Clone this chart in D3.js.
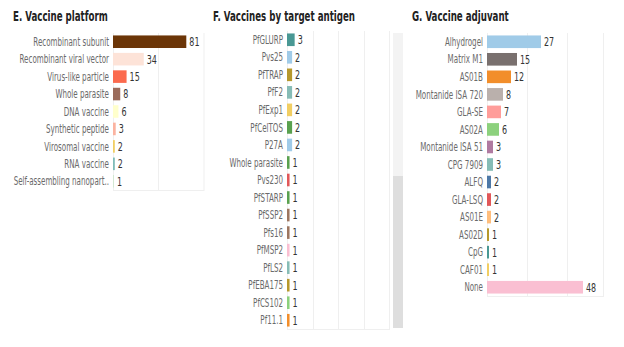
<!DOCTYPE html>
<html><head><meta charset="utf-8">
<script src="https://cdn.jsdelivr.net/npm/d3@7"></script>
<style>
html,body{margin:0;padding:0;background:#fff;}
svg{display:block;}
.lbl{font-family:"DejaVu Sans Condensed","DejaVu Sans",sans-serif;font-size:11.5px;fill:#6a6a6a;}
.val{font-family:"DejaVu Sans Condensed","DejaVu Sans",sans-serif;font-size:12px;fill:#333;}
.ttl{font-family:"DejaVu Sans Condensed","DejaVu Sans",sans-serif;font-size:14.5px;font-weight:bold;fill:#222;}
</style></head>
<body>
<svg id="c" width="624" height="347"></svg>
<script>
// ---- Data ----
const platformCats = ["Recombinant subunit","Recombinant viral vector","Virus-like particle","Whole parasite","DNA vaccine","Synthetic peptide","Virosomal vaccine","RNA vaccine","Self-assembling nanopart.."];
const platformValues = [81,34,15,8,6,3,2,2,1];
const platformColors = ["#6b3507","#fde3d8","#fb6a4e","#9b6b5b","#ffffcc","#fbb3a0","#f1ce63","#7fbcb8","#cfe7cf"];

const antigenCats = ["PfGLURP","Pvs25","PfTRAP","PfF2","PfExp1","PfCelTOS","P27A","Whole parasite","Pvs230","PfSTARP","PfSSP2","Pfs16","PfMSP2","PfLS2","PfEBA175","PfCS102","Pf11.1"];
const antigenValues = [3,2,2,2,2,2,2,1,1,1,1,1,1,1,1,1,1];
const antigenColors = ["#499894","#a0cbe8","#b6992d","#86bcb6","#f1ce63","#59a14f","#a0cbe8","#59a14f","#e15759","#59a14f","#9d7660","#9d7660","#fabfd2","#86bcb6","#b6992d","#8cd17d","#f28e2b"];

const adjuvantCats = ["Alhydrogel","Matrix M1","AS01B","Montanide ISA 720","GLA-SE","AS02A","Montanide ISA 51","CPG 7909","ALFQ","GLA-LSQ","AS01E","AS02D","CpG","CAF01","None"];
const adjuvantValues = [27,15,12,8,7,6,3,3,2,2,2,1,1,1,48];
const adjuvantColors = ["#a0cbe8","#79706e","#f28e2b","#bab0ac","#ff9d9a","#8cd17d","#b07aa1","#86bcb6","#4e79a7","#e15759","#ffbe7d","#b6992d","#499894","#f1ce63","#fabfd2"];

const titles = ["E. Vaccine platform","F. Vaccines by target antigen","G. Vaccine adjuvant"];

const svg = d3.select("#c");
const SX = 0.69;   // horizontal squeeze to mimic the narrow original font

function panel(cfg){
  const g = svg.append("g");
  const x = d3.scaleLinear().domain(cfg.domain).range([cfg.x0, cfg.x1]);
  const y = d3.scaleBand().domain(cfg.cats).range([cfg.y0, cfg.y1]).paddingInner(0.28).paddingOuter(0.14);
  g.selectAll("line.grid").data(cfg.ticks).enter().append("line")
    .attr("x1", d=>Math.round(x(d))+0.5).attr("x2", d=>Math.round(x(d))+0.5)
    .attr("y1", cfg.y0).attr("y2", cfg.y1)
    .attr("stroke", "#efefef").attr("stroke-width",1);
  g.append("line").attr("x1", cfg.x1+0.5).attr("x2", cfg.x1+0.5).attr("y1", cfg.y0).attr("y2", cfg.y1).attr("stroke","#efefef");
  g.append("line").attr("x1", cfg.x0).attr("x2", cfg.x1+1).attr("y1", cfg.y1+0.5).attr("y2", cfg.y1+0.5).attr("stroke","#efefef");
  g.selectAll("rect.bar").data(cfg.vals).enter().append("rect")
    .attr("x", x(0)).attr("y", (d,i)=>y(cfg.cats[i]))
    .attr("width", d=>x(d)-x(0)).attr("height", y.bandwidth())
    .attr("fill", (d,i)=>cfg.colors[i]);
  g.selectAll("text.val").data(cfg.vals).enter().append("text").attr("class","val")
    .attr("transform",(d,i)=>`translate(${x(d)+3},${y(cfg.cats[i])+y.bandwidth()/2}) scale(0.74,1)`)
    .attr("dy","0.37em").text(d=>d);
  g.selectAll("text.lbl").data(cfg.cats).enter().append("text").attr("class","lbl")
    .attr("transform",d=>`translate(${cfg.x0-4},${y(d)+y.bandwidth()/2}) scale(${SX},1)`)
    .attr("dy","0.36em").attr("text-anchor","end").text(d=>d);
  g.append("text").attr("class","ttl").attr("transform",`translate(${cfg.tx},21) scale(0.665,1)`).text(cfg.title);
}

panel({cats:platformCats, vals:platformValues, colors:platformColors, domain:[0,100], ticks:[0,50],
  x0:113, x1:203.5, y0:33, y1:190, tx:13, title:titles[0]});
panel({cats:antigenCats, vals:antigenValues, colors:antigenColors, domain:[0,40], ticks:[0,10,20,30],
  x0:287, x1:389, y0:31, y1:329, tx:213, title:titles[1]});
panel({cats:adjuvantCats, vals:adjuvantValues, colors:adjuvantColors, domain:[0,58], ticks:[0,20,40],
  x0:487, x1:603, y0:33, y1:296, tx:412, title:titles[2]});

// scrollbar of panel F
svg.append("rect").attr("x",393).attr("y",33).attr("width",10).attr("height",295).attr("fill","#f3f3f3");
svg.append("rect").attr("x",393).attr("y",176).attr("width",10).attr("height",152).attr("fill","#dedede");
</script>
</body></html>
